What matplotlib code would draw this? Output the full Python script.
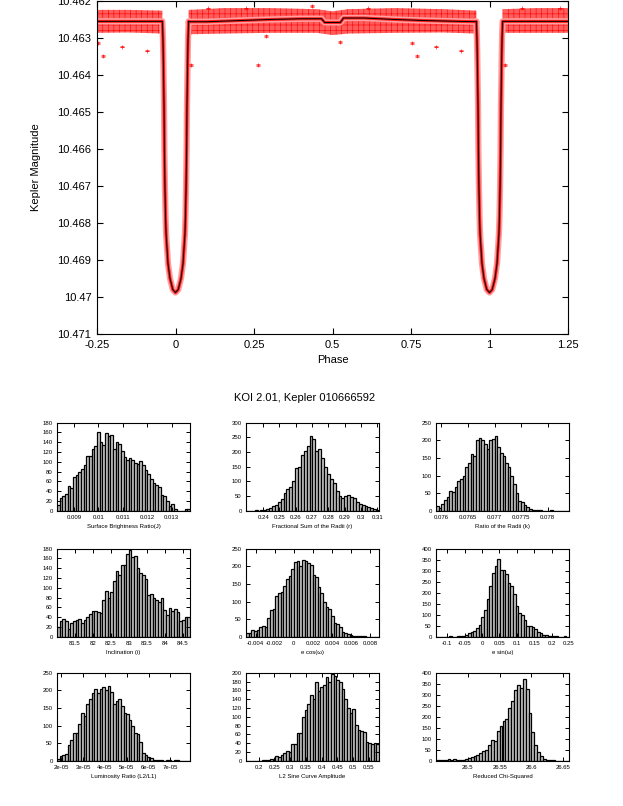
import numpy as np
import matplotlib
matplotlib.use("Agg")
import matplotlib.pyplot as plt
from matplotlib.ticker import FuncFormatter, MultipleLocator

plt.rcParams['font.family'] = ['Liberation Sans', 'DejaVu Sans']
plt.rcParams['hatch.linewidth'] = 0.4

# ---- light curve ----
# half profile of the primary eclipse: offset from eclipse centre, magnitude
ecl_dphase = [-0.0418, -0.0400, -0.0385, -0.0366, -0.0354, -0.0335, -0.0318,
              -0.0300, -0.0277, -0.0239, -0.0175, -0.0086, 0.0]
ecl_mag = [10.46255, 10.4630, 10.4637, 10.4648, 10.4660, 10.4671, 10.4678,
           10.4683, 10.4686, 10.4691, 10.4695, 10.4698, 10.46988]
# out of eclipse model (incl. the shallow secondary at 0.5)
base_phase = [0.0418, 0.1, 0.2, 0.3, 0.4, 0.465, 0.475, 0.525, 0.535, 0.6, 0.7,
              0.8, 0.9, 0.9582]
base_mag = [10.46256, 10.46256, 10.46253, 10.46250, 10.46248, 10.46248, 10.46258,
            10.46258, 10.46246, 10.46246, 10.46250, 10.46253, 10.46255, 10.46256]
# extent of the red cloud of measurements outside eclipse
band_phase = [-0.25, -0.15, -0.0418, np.nan, 0.0418, 0.15, 0.3, 0.45, 0.5, 0.55,
              0.7, 0.85, 0.9582, np.nan, 1.0418, 1.15, 1.25]
band_top = [10.46224, 10.46224, 10.46226, np.nan, 10.46224, 10.46220, 10.46220,
            10.46222, 10.46228, 10.46222, 10.46220, 10.46222, 10.46226, np.nan,
            10.46222, 10.46220, 10.46220]
band_bottom = [10.46286, 10.46285, 10.46288, np.nan, 10.46290, 10.46288, 10.46286,
               10.46286, 10.46292, 10.46288, 10.46286, 10.46285, 10.46288, np.nan,
               10.46286, 10.46286, 10.46286]
# stray points (phase within 0..1)
out_phase = [0.7697, 0.830, 0.9086, 0.050, 0.2627, 0.288, 0.524, 0.753,
             0.1035, 0.435, 0.613, 0.224]
out_mag = [10.46348, 10.46323, 10.46334, 10.46373, 10.46373, 10.46294, 10.46311,
           10.46314, 10.46220, 10.46214, 10.46220, 10.46220]
mag_err = 0.00002

# ---- posterior histograms ----
hist_names = ["Surface Brightness Ratio(J)", "Fractional Sum of the Radii (r)",
              "Ratio of the Radii (k)", "Inclination (i)", "e cos(\u03c9)",
              "e sin(\u03c9)", "Luminosity Ratio (L2/L1)", "L2 Sine Curve Amplitude",
              "Reduced Chi-Squared"]
hist_lo = [0.0083, 0.2295, 0.0759, 81.0, -0.0050, -0.132, 1.8e-5, 0.160, 26.45]
hist_hi = [0.01375, 0.3110, 0.0784, 84.7, 0.0089, 0.250, 7.9e-5, 0.582, 26.659]

counts_j = [12, 25, 30, 34, 51, 46, 68, 74, 80, 85, 94, 112, 112, 126, 133, 161,
            140, 135, 158, 153, 154, 127, 141, 137, 122, 110, 103, 108, 104, 98,
            96, 102, 93, 84, 76, 65, 56, 52, 48, 33, 30, 20, 10, 13, 3, 0, 0, 0, 3, 3]
counts_r = [0, 0, 0, 1, 0, 2, 3, 5, 8, 15, 18, 28, 40, 60, 73, 80, 100, 145, 150,
            190, 205, 220, 255, 245, 205, 212, 180, 150, 125, 108, 95, 68, 50, 45,
            50, 53, 48, 45, 30, 22, 20, 15, 12, 10, 5, 3]
counts_k = [12, 8, 20, 30, 40, 57, 52, 67, 85, 90, 100, 125, 135, 160, 155, 200,
            206, 200, 190, 175, 200, 204, 212, 180, 165, 155, 135, 125, 100, 75,
            50, 28, 26, 15, 10, 6, 3, 2, 1, 1, 0, 0, 0, 1, 0, 0, 0, 0, 0, 0]
counts_i = [20, 32, 36, 32, 15, 28, 32, 34, 36, 28, 34, 40, 47, 52, 53, 50, 48,
            75, 94, 80, 92, 113, 135, 127, 147, 147, 170, 178, 163, 166, 140, 130,
            127, 118, 85, 88, 80, 76, 70, 79, 55, 45, 58, 52, 57, 50, 33, 35, 40, 40]
counts_ecos = [10, 10, 18, 15, 20, 28, 30, 28, 52, 75, 80, 115, 125, 127, 145,
               165, 172, 193, 212, 215, 200, 218, 216, 208, 205, 175, 170, 140,
               125, 100, 83, 78, 60, 38, 35, 28, 13, 10, 8, 5, 2, 3, 1, 1, 1, 0,
               0, 0, 0, 0]
counts_esin = [0, 0, 0, 0, 0, 1, 0, 0, 2, 3, 5, 10, 15, 20, 28, 40, 55, 90, 120,
               170, 230, 290, 320, 355, 305, 305, 285, 245, 230, 195, 140, 110,
               100, 75, 50, 50, 45, 35, 20, 15, 10, 8, 5, 3, 2, 1, 0, 0, 1, 0]
counts_lum = [5, 12, 15, 20, 45, 60, 80, 80, 105, 135, 128, 160, 175, 192, 203,
              192, 205, 210, 200, 212, 195, 162, 170, 175, 155, 135, 133, 115, 98,
              78, 75, 52, 22, 15, 10, 8, 3, 2, 1, 1, 0, 1, 1, 0, 1, 1, 0, 0, 0, 0]
counts_amp = [0, 0, 0, 0, 0, 0, 1, 1, 2, 3, 2, 10, 8, 12, 18, 23, 20, 38, 38, 63,
              63, 100, 115, 130, 150, 140, 178, 158, 168, 172, 190, 180, 198, 193,
              183, 178, 163, 140, 120, 108, 118, 82, 70, 68, 65, 42, 40, 37, 40, 38]
counts_chi = [2, 1, 5, 3, 8, 5, 6, 3, 5, 5, 10, 12, 18, 20, 28, 35, 45, 50, 70, 95,
              90, 135, 160, 180, 190, 240, 270, 320, 345, 330, 370, 325, 215, 130,
              70, 40, 20, 10, 5, 2, 1, 0, 0, 0, 0, 0]
hist_counts = [counts_j, counts_r, counts_k, counts_i, counts_ecos, counts_esin,
               counts_lum, counts_amp, counts_chi]

hist_xticks = [[0.009, 0.010, 0.011, 0.012, 0.013],
               [0.24, 0.25, 0.26, 0.27, 0.28, 0.29, 0.30, 0.31],
               [0.076, 0.0765, 0.077, 0.0775, 0.078],
               [81.5, 82, 82.5, 83, 83.5, 84, 84.5],
               [-0.004, -0.002, 0, 0.002, 0.004, 0.006, 0.008],
               [-0.1, -0.05, 0, 0.05, 0.1, 0.15, 0.2, 0.25],
               [2e-5, 3e-5, 4e-5, 5e-5, 6e-5, 7e-5],
               [0.2, 0.25, 0.3, 0.35, 0.4, 0.45, 0.5, 0.55],
               [26.5, 26.55, 26.6, 26.65]]
hist_ytop = [180, 300, 250, 180, 250, 400, 250, 200, 400]
hist_ystep = [20, 50, 50, 20, 50, 50, 50, 20, 50]

W, H = 623, 806
fig = plt.figure(figsize=(W / 100, H / 100), dpi=100)
gfmt = FuncFormatter(lambda v, p: "%g" % round(v, 10))

# ---- top panel ----
ax = fig.add_axes([97 / W, 1 - 334 / H, 471 / W, 333 / H])
ph = []
mg = []
for c in (0.0, 1.0):
    ph += [c + d for d in ecl_dphase] + [c - d for d in ecl_dphase[-2::-1]]
    mg += ecl_mag + ecl_mag[-2::-1]
    if c == 0.0:
        ph += base_phase
        mg += base_mag
model_phase = [-0.25] + ph + [1.25]
model_mag = [ecl_mag[0]] + mg + [ecl_mag[0]]

ax.fill_between(band_phase, band_top, band_bottom, facecolor='#ff5c5c',
                edgecolor='#ff0000', hatch='+++', linewidth=0)
ax.plot(model_phase, model_mag, color='#ffa0a0', lw=4.5, solid_capstyle='butt')
ax.plot(model_phase, model_mag, color='#ff2020', lw=2.2)
op = np.array(out_phase)
om = np.array(out_mag)
for shift in (-1, 0, 1):
    sel = (op + shift >= -0.25) & (op + shift <= 1.25)
    ax.errorbar(op[sel] + shift, om[sel], yerr=mag_err, fmt='+', color='red',
                ms=3, mew=0.6, elinewidth=0.5, capsize=1.5, alpha=0.7)
ax.plot(model_phase, model_mag, color='black', lw=0.7)

ax.set_xlim(-0.25, 1.25)
ax.set_ylim(10.471, 10.462)
ax.xaxis.set_major_locator(MultipleLocator(0.25))
ax.yaxis.set_major_locator(MultipleLocator(0.001))
ax.xaxis.set_major_formatter(gfmt)
ax.yaxis.set_major_formatter(gfmt)
ax.tick_params(direction='in', length=4.5, width=0.8, top=True, right=True,
               labelsize=8, pad=4)
for s in ax.spines.values():
    s.set_linewidth(0.8)
ax.set_xlabel("Phase", fontsize=8)
ax.set_ylabel("Kepler Magnitude", fontsize=8)
ax.yaxis.set_label_coords(-0.118, 0.5)
ax.xaxis.set_label_coords(0.5, -0.062)

fig.text(305 / W, 1 - 398 / H, "KOI 2.01, Kepler 010666592", ha='center',
         va='center', fontsize=8)

# ---- histogram grid ----
col_left = [57, 246, 436]
row_bottom = [510.7, 636.7, 760.7]
for k in range(9):
    r, c = divmod(k, 3)
    hx = fig.add_axes([col_left[c] / W, 1 - row_bottom[r] / H, 133 / W, 88 / H])
    n = len(hist_counts[k])
    edges = np.linspace(hist_lo[k], hist_hi[k], n + 1)
    hx.bar(edges[:-1], hist_counts[k], width=edges[1] - edges[0], align='edge',
           color='#c8c8c8', edgecolor='black', linewidth=0.9)
    hx.set_xlim(hist_lo[k], hist_hi[k])
    hx.set_ylim(0, hist_ytop[k])
    hx.set_xticks(hist_xticks[k])
    hx.yaxis.set_major_locator(MultipleLocator(hist_ystep[k]))
    hx.xaxis.set_major_formatter(gfmt)
    hx.tick_params(direction='in', length=3, width=0.7, top=True, right=True,
                   labelsize=4.3, pad=3)
    for s in hx.spines.values():
        s.set_linewidth(0.8)
    hx.set_xlabel(hist_names[k], fontsize=4.3, labelpad=3)

fig.savefig("out.png", dpi=100)
